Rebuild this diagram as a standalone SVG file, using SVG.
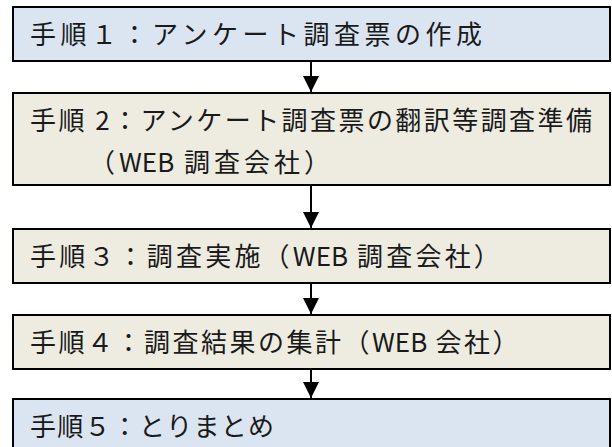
<svg xmlns="http://www.w3.org/2000/svg" width="612" height="447" viewBox="0 0 612 447">
<defs>
<style>
.blue{fill:#DBE5F1;stroke:#000;stroke-width:2}
.tan{fill:#EEECE1;stroke:#000;stroke-width:2}
.t{font-family:"Noto Sans CJK JP","Noto Sans",sans-serif;font-size:26px;fill:#1a1a1a}
.w{letter-spacing:0}
.c{stroke:#000;stroke-width:2;fill:none}
</style>
<marker id="ah" markerUnits="userSpaceOnUse" markerWidth="16" markerHeight="16" viewBox="0 0 16 16" refX="16" refY="8" orient="auto">
<path d="M0,0 L16,8 L0,16 Z" fill="#000"/>
</marker>
</defs>
<rect width="612" height="447" fill="#fff"/>
<g id="step1">
<rect class="blue" x="13" y="7" width="597" height="54"/>
<text class="t" x="30" y="44" textLength="452" lengthAdjust="spacing">手順１：アンケート調査票の作成</text>
</g>
<g id="step2">
<rect class="tan" x="13" y="93" width="597" height="92"/>
<text class="t" x="30" y="130" textLength="562" lengthAdjust="spacing">手順 2：アンケート調査票の翻訳等調査準備</text>
<text class="t" x="89" y="172" style="letter-spacing:4px">（<tspan class="w">WEB</tspan> 調査会社）</text>
</g>
<g id="step3">
<rect class="tan" x="13" y="229" width="597" height="54"/>
<text class="t" x="30" y="266" style="letter-spacing:3.2px">手順３：調査実施（<tspan class="w">WEB</tspan> 調査会社）</text>
</g>
<g id="step4">
<rect class="tan" x="13" y="315" width="597" height="54"/>
<text class="t" x="30" y="352" style="letter-spacing:2.5px">手順４：調査結果の集計（<tspan class="w">WEB</tspan> 会社）</text>
</g>
<g id="step5">
<rect class="blue" x="13" y="399" width="597" height="60"/>
<text class="t" x="30" y="436" textLength="244" lengthAdjust="spacing">手順５：とりまとめ</text>
</g>
<g id="connectors">
<line class="c" x1="311" y1="61" x2="311" y2="92" marker-end="url(#ah)"/>
<line class="c" x1="311" y1="185" x2="311" y2="228" marker-end="url(#ah)"/>
<line class="c" x1="311" y1="283" x2="311" y2="314" marker-end="url(#ah)"/>
<line class="c" x1="311" y1="369" x2="311" y2="398" marker-end="url(#ah)"/>
</g>
</svg>
